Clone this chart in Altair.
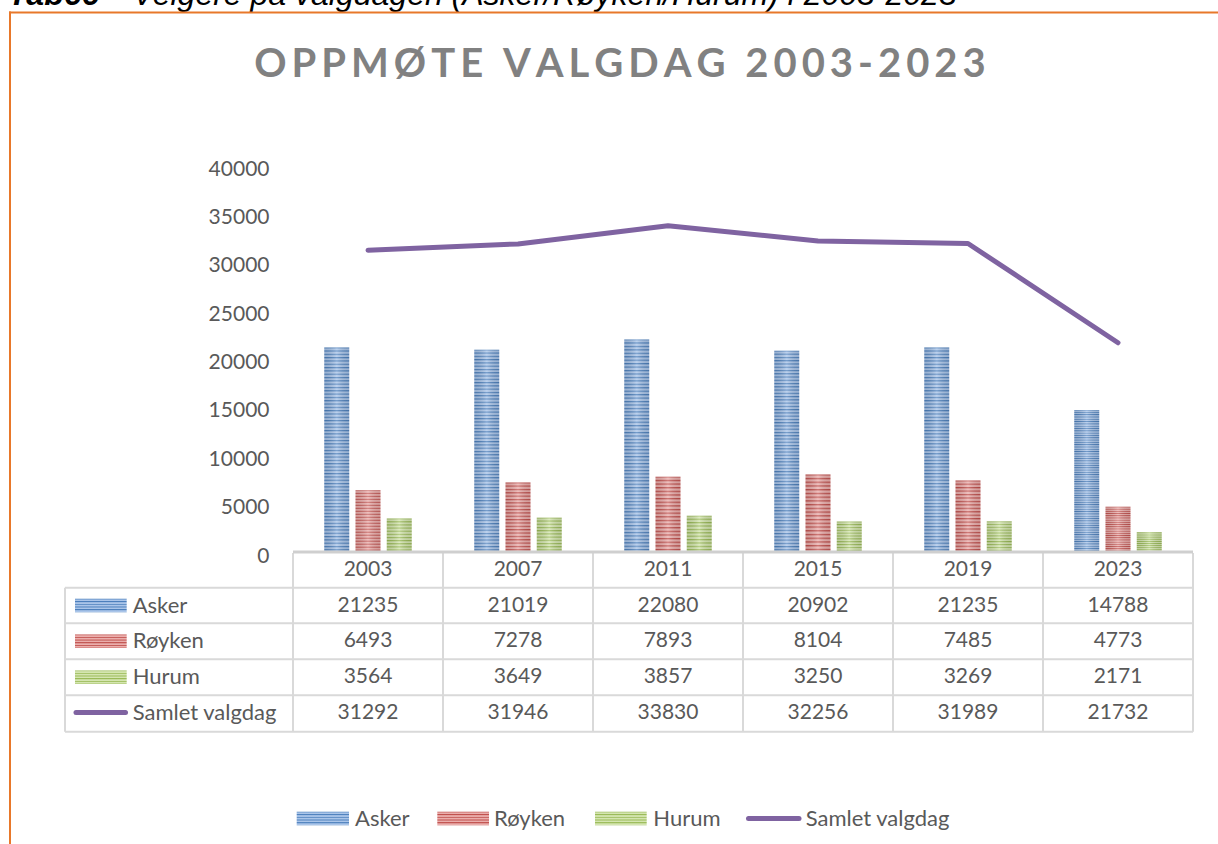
import altair as alt
import pandas as pd

# ---------------- data ----------------
years = ["2003", "2007", "2011", "2015", "2019", "2023"]
asker = [21235, 21019, 22080, 20902, 21235, 14788]
royken = [6493, 7278, 7893, 8104, 7485, 4773]
hurum = [3564, 3649, 3857, 3250, 3269, 2171]
samlet = [31292, 31946, 33830, 32256, 31989, 21732]
bar_series = ["Asker", "Røyken", "Hurum"]
line_series = "Samlet valgdag"
title_text = "OPPMØTE VALGDAG 2003-2023"
caption_bold = "Tab66"
caption_rest = "- Velgere på valgdagen (Asker/Røyken/Hurum) i 2003-2023"
y_ticks = [0, 5000, 10000, 15000, 20000, 25000, 30000, 35000, 40000]

rows = []
for name, vals in zip(bar_series + [line_series], [asker, royken, hurum, samlet]):
    for yr, v in zip(years, vals):
        rows.append({"year": yr, "series": name, "value": v})
df = pd.DataFrame(rows)
one = pd.DataFrame({"k": [0]})

# ---------------- style ----------------
FONT = "Lato"
TXT = "#595959"
GRID = "#D9D9D9"
ORANGE = "#E8782A"
PURPLE = "#7F63A1"
W, H = 900, 387
stripe_cols = {
    "Asker": ("#4A7EBB", "#AAC5E9"),
    "Røyken": ("#BE4B48", "#EAAEAC"),
    "Hurum": ("#97B853", "#D4E5B0"),
}
stripe_n = {"Asker": 62, "Røyken": 21, "Hurum": 11}


def stripes(dark, light, n):
    stops = []
    for i in range(n):
        stops.append({"offset": i / n, "color": dark})
        stops.append({"offset": (i + 0.45) / n, "color": light})
        stops.append({"offset": (i + 0.75) / n, "color": light})
        stops.append({"offset": (i + 1) / n, "color": dark})
    return {"gradient": "linear", "x1": 0, "y1": 0, "x2": 0, "y2": 1, "stops": stops}


shine = {
    "gradient": "linear", "x1": 0, "y1": 0, "x2": 1, "y2": 0,
    "stops": [
        {"offset": 0, "color": "rgba(0,0,0,0.10)"},
        {"offset": 0.5, "color": "rgba(255,255,255,0.22)"},
        {"offset": 1, "color": "rgba(0,0,0,0.10)"},
    ],
}

x_enc = alt.X("year:N", scale=alt.Scale(domain=years, paddingInner=0, paddingOuter=0), axis=None)
xoff_enc = alt.XOffset("series:N", scale=alt.Scale(domain=bar_series, paddingInner=0.2, paddingOuter=1))
y_enc = alt.Y(
    "value:Q",
    scale=alt.Scale(domain=[0, 40000], nice=False, zero=True),
    axis=alt.Axis(values=y_ticks, format="d", title=None, domain=False, ticks=False, tickSize=0,
                  grid=False, labelFont=FONT, labelFontSize=21, labelColor=TXT, labelPadding=24,
                  labelOffset=3, labelFlush=False, labelOverlap=False),
)

base = alt.Chart(df)
layers = []

# bars (striped)
for s in bar_series:
    d, l = stripe_cols[s]
    layers.append(
        base.transform_filter(alt.datum.series == s)
        .mark_bar(fill=stripes(d, l, stripe_n[s]), strokeWidth=0)
        .encode(x=x_enc, xOffset=xoff_enc, y=y_enc)
    )
layers.append(
    base.transform_filter(alt.FieldOneOfPredicate(field="series", oneOf=bar_series))
    .mark_bar(fill=shine, strokeWidth=0)
    .encode(x=x_enc, xOffset=xoff_enc, y=y_enc)
)

# total line
layers.append(
    base.transform_filter(alt.datum.series == line_series)
    .mark_line(color=PURPLE, strokeWidth=5, strokeCap="round", strokeJoin="round")
    .encode(x=x_enc, y=y_enc)
)

# ---------------- data table ----------------
row_lines = [421.7, 457.3, 493.2, 529.2, 565.7]
row_centers = [(row_lines[i] + row_lines[i + 1]) / 2 for i in range(4)]
LEFT = -228

for yv in row_lines:
    layers.append(alt.Chart(one).mark_rule(color=GRID, strokeWidth=2).encode(
        x=alt.value(LEFT), x2=alt.value(W), y=alt.value(yv)))
layers.append(alt.Chart(one).mark_rule(color=GRID, strokeWidth=2).encode(
    x=alt.value(LEFT), y=alt.value(row_lines[0]), y2=alt.value(row_lines[-1])))
layers.append(
    base.transform_filter(alt.datum.series == line_series)
    .mark_rule(color=GRID, strokeWidth=2)
    .encode(x=alt.X("year:N", bandPosition=0, scale=alt.Scale(domain=years, paddingInner=0, paddingOuter=0), axis=None),
            y=alt.value(H), y2=alt.value(row_lines[-1]))
)
layers.append(alt.Chart(one).mark_rule(color=GRID, strokeWidth=2).encode(
    x=alt.value(W), y=alt.value(H), y2=alt.value(row_lines[-1])))
# axis base line
layers.append(alt.Chart(one).mark_rule(color="#CFCFCF", strokeWidth=3).encode(
    x=alt.value(0), x2=alt.value(W), y=alt.value(H - 1)))

# header years
layers.append(
    base.transform_filter(alt.datum.series == line_series)
    .mark_text(font=FONT, fontSize=21, color=TXT, baseline="middle", align="center")
    .encode(x=x_enc, y=alt.value((H + row_lines[0]) / 2), text="year:N")
)

all_series = bar_series + [line_series]
legend_sw = {"Asker": (3.7, 56, 62), "Røyken": (144.3, 196, 201), "Hurum": (302, 353.7, 360.3),
             line_series: (455.5, 506, 512.7)}
LEG_Y = 652.5
for i, s in enumerate(all_series):
    cy = row_centers[i]
    sub = base.transform_filter((alt.datum.series == s) & (alt.datum.year == years[0]))
    # values
    layers.append(
        base.transform_filter(alt.datum.series == s)
        .mark_text(font=FONT, fontSize=21, color=TXT, baseline="middle", align="center")
        .encode(x=x_enc, y=alt.value(cy), text="value:Q")
    )
    # row label
    layers.append(
        sub.mark_text(font=FONT, fontSize=22, color=TXT, baseline="middle", align="left")
        .encode(x=alt.value(-160.3), y=alt.value(cy), text="series:N")
    )
    lx1, lx2, ltx = legend_sw[s]
    # bottom legend label
    layers.append(
        sub.mark_text(font=FONT, fontSize=22, color=TXT, baseline="middle", align="left")
        .encode(x=alt.value(ltx), y=alt.value(LEG_Y), text="series:N")
    )
    if s in bar_series:
        d, l = stripe_cols[s]
        g = stripes(d, l, 5)
        layers.append(alt.Chart(one).mark_rect(fill=g, strokeWidth=0).encode(
            x=alt.value(-218), x2=alt.value(-166.3), y=alt.value(cy - 6.7), y2=alt.value(cy + 6.7)))
        layers.append(alt.Chart(one).mark_rect(fill=g, strokeWidth=0).encode(
            x=alt.value(lx1), x2=alt.value(lx2), y=alt.value(LEG_Y - 6.8), y2=alt.value(LEG_Y + 6.8)))
    else:
        layers.append(alt.Chart(one).mark_rule(color=PURPLE, strokeWidth=5, strokeCap="round").encode(
            x=alt.value(-217), x2=alt.value(-167.5), y=alt.value(cy - 1)))
        layers.append(alt.Chart(one).mark_rule(color=PURPLE, strokeWidth=5, strokeCap="round").encode(
            x=alt.value(lx1), x2=alt.value(lx2), y=alt.value(LEG_Y)))

# ---------------- title, caption, frame ----------------
hs = "\u200a\u200a"
spaced_title = hs.join(list(title_text))
layers.append(alt.Chart(one).mark_text(text=spaced_title, font=FONT, fontSize=40, fontWeight="bold",
                                       color="#818181", align="center", baseline="alphabetic").encode(
    x=alt.value(327), y=alt.value(-89.3)))
layers.append(alt.Chart(one).mark_text(text=caption_bold, font="Liberation Sans", fontSize=32, fontWeight="bold",
                                       fontStyle="italic", color="#000000", align="left", baseline="alphabetic").encode(
    x=alt.value(-285), y=alt.value(-161)))
layers.append(alt.Chart(one).mark_text(text=caption_rest, font="Liberation Sans", fontSize=32,
                                       fontStyle="italic", color="#000000", align="left", baseline="alphabetic").encode(
    x=alt.value(-180), y=alt.value(-161)))
layers.append(alt.Chart(one).mark_rule(color=ORANGE, strokeWidth=2).encode(
    x=alt.value(-284), x2=alt.value(930), y=alt.value(-153.5)))
layers.append(alt.Chart(one).mark_rule(color=ORANGE, strokeWidth=2).encode(
    x=alt.value(-283), y=alt.value(-154.5), y2=alt.value(690)))

chart = alt.layer(*layers).properties(
    width=W, height=H,
    padding={"left": 293, "top": 166, "right": 25, "bottom": 291},
    autosize=alt.AutoSizeParams(type="none"),
    background="white",
).configure_view(stroke=None)

chart.save("out.html", embed_options={"renderer": "svg", "actions": False})
